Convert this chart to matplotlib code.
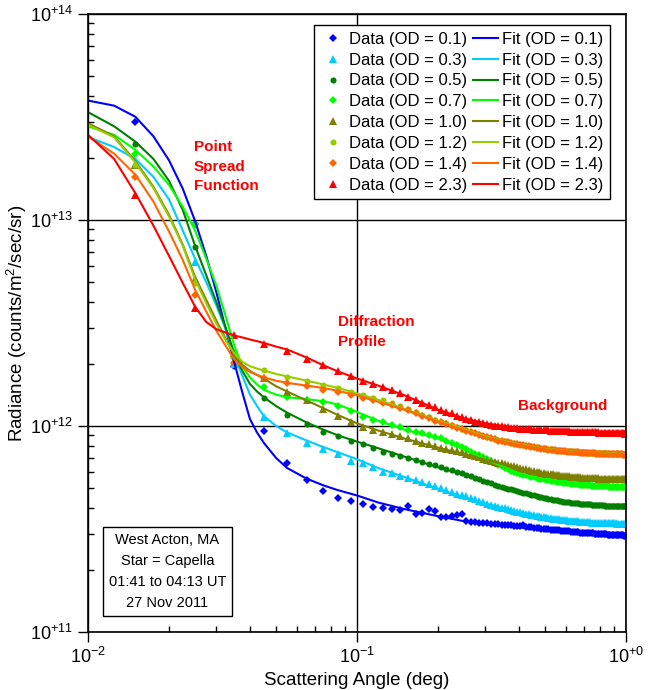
import matplotlib
matplotlib.use("Agg")
import matplotlib.pyplot as plt
from matplotlib.ticker import FixedLocator, FixedFormatter, LogLocator, NullFormatter

plt.rcParams['font.family'] = ['Liberation Sans', 'DejaVu Sans']
plt.rcParams['mathtext.fontset'] = 'custom'
plt.rcParams['mathtext.rm'] = 'Liberation Sans'

# scattering angle of the data samples (deg)
angle = [0.015, 0.025, 0.035, 0.045, 0.055, 0.065, 0.075, 0.085, 0.095, 0.105,
         0.115, 0.125, 0.135, 0.145, 0.155, 0.165, 0.175, 0.185, 0.195, 0.205,
         0.215, 0.225, 0.235, 0.245, 0.255, 0.265, 0.275, 0.285, 0.295, 0.305,
         0.315, 0.325, 0.335, 0.345, 0.355, 0.365, 0.375, 0.385, 0.395, 0.405,
         0.415, 0.425, 0.435, 0.445, 0.455, 0.465, 0.475, 0.485, 0.495, 0.505,
         0.515, 0.525, 0.535, 0.545, 0.555, 0.565, 0.575, 0.585, 0.595, 0.605,
         0.615, 0.625, 0.635, 0.645, 0.655, 0.665, 0.675, 0.685, 0.695, 0.705,
         0.715, 0.725, 0.735, 0.745, 0.755, 0.765, 0.775, 0.785, 0.795, 0.805,
         0.815, 0.825, 0.835, 0.845, 0.855, 0.865, 0.875, 0.885, 0.895, 0.905,
         0.915, 0.925, 0.935, 0.945, 0.955, 0.965, 0.975, 0.985, 0.995]

# measured radiance, units of 1e12 counts/m2/sec/sr
data_od01 = [29.9, 9.6, 1.95, 0.95, 0.66, 0.547, 0.483, 0.447, 0.432, 0.418,
             0.405, 0.40, 0.396, 0.39, 0.41, 0.372, 0.38, 0.395, 0.385, 0.36,
             0.36, 0.365, 0.37, 0.372, 0.345, 0.343, 0.342, 0.34, 0.338, 0.337,
             0.336, 0.334, 0.333, 0.332, 0.331, 0.33, 0.329, 0.328, 0.327, 0.326,
             0.33, 0.325, 0.323, 0.322, 0.321, 0.32, 0.319, 0.318, 0.317, 0.316,
             0.315, 0.314, 0.313, 0.313, 0.312, 0.311, 0.31, 0.31, 0.309, 0.308,
             0.308, 0.307, 0.306, 0.306, 0.305, 0.305, 0.304, 0.304, 0.303, 0.303,
             0.302, 0.302, 0.301, 0.301, 0.301, 0.3, 0.3, 0.3, 0.299, 0.299,
             0.299, 0.298, 0.298, 0.298, 0.297, 0.297, 0.297, 0.297, 0.296, 0.296,
             0.296, 0.296, 0.295, 0.295, 0.295, 0.295, 0.295, 0.294, 0.294]
data_od03 = [18.5, 6.25, 2.0, 1.11, 0.92, 0.83, 0.77, 0.73, 0.68, 0.66,
             0.63, 0.60, 0.59, 0.57, 0.56, 0.545, 0.535, 0.525, 0.51, 0.50,
             0.49, 0.48, 0.47, 0.46, 0.455, 0.447, 0.44, 0.433, 0.427, 0.42,
             0.415, 0.41, 0.406, 0.402, 0.398, 0.394, 0.39, 0.387, 0.384, 0.381,
             0.378, 0.376, 0.373, 0.371, 0.369, 0.367, 0.365, 0.363, 0.361, 0.36,
             0.358, 0.357, 0.355, 0.354, 0.353, 0.352, 0.351, 0.35, 0.349, 0.348,
             0.347, 0.346, 0.346, 0.345, 0.344, 0.344, 0.343, 0.343, 0.342, 0.342,
             0.341, 0.341, 0.341, 0.34, 0.34, 0.34, 0.339, 0.339, 0.339, 0.339,
             0.338, 0.338, 0.338, 0.338, 0.338, 0.337, 0.337, 0.337, 0.337, 0.337,
             0.337, 0.336, 0.336, 0.336, 0.336, 0.336, 0.336, 0.335, 0.335]
data_od05 = [23.4, 7.4, 2.05, 1.36, 1.13, 1.02, 0.94, 0.89, 0.85, 0.82,
             0.78, 0.75, 0.73, 0.715, 0.70, 0.685, 0.67, 0.655, 0.645, 0.63,
             0.62, 0.61, 0.60, 0.59, 0.58, 0.57, 0.56, 0.55, 0.54, 0.533,
             0.526, 0.52, 0.514, 0.508, 0.502, 0.497, 0.492, 0.487, 0.483, 0.479,
             0.475, 0.471, 0.467, 0.463, 0.46, 0.457, 0.454, 0.451, 0.448, 0.445,
             0.443, 0.441, 0.439, 0.437, 0.435, 0.433, 0.431, 0.43, 0.428, 0.427,
             0.426, 0.425, 0.424, 0.423, 0.422, 0.421, 0.42, 0.419, 0.418, 0.418,
             0.417, 0.416, 0.416, 0.415, 0.415, 0.414, 0.414, 0.413, 0.413, 0.412,
             0.412, 0.412, 0.411, 0.411, 0.411, 0.41, 0.41, 0.41, 0.41, 0.409,
             0.409, 0.409, 0.409, 0.408, 0.408, 0.408, 0.408, 0.408, 0.407]
data_od07 = [21.0, 9.6, 2.15, 1.54, 1.38, 1.34, 1.31, 1.25, 1.18, 1.11,
             1.07, 1.04, 1.01, 0.985, 0.96, 0.94, 0.92, 0.90, 0.885, 0.87,
             0.85, 0.83, 0.81, 0.79, 0.77, 0.75, 0.735, 0.72, 0.705, 0.69,
             0.675, 0.662, 0.65, 0.638, 0.627, 0.617, 0.608, 0.6, 0.593, 0.587,
             0.581, 0.576, 0.571, 0.567, 0.563, 0.559, 0.556, 0.553, 0.55, 0.547,
             0.545, 0.542, 0.54, 0.538, 0.536, 0.534, 0.532, 0.531, 0.529, 0.528,
             0.526, 0.525, 0.524, 0.523, 0.522, 0.521, 0.52, 0.519, 0.518, 0.517,
             0.516, 0.516, 0.515, 0.514, 0.514, 0.513, 0.512, 0.512, 0.511, 0.511,
             0.51, 0.51, 0.51, 0.509, 0.509, 0.508, 0.508, 0.508, 0.507, 0.507,
             0.507, 0.507, 0.506, 0.506, 0.506, 0.506, 0.505, 0.505, 0.505]
data_od10 = [18.5, 5.2, 2.26, 1.71, 1.46, 1.33, 1.21, 1.12, 1.05, 0.99,
             0.96, 0.93, 0.91, 0.89, 0.87, 0.85, 0.83, 0.815, 0.80, 0.785,
             0.775, 0.765, 0.755, 0.745, 0.735, 0.725, 0.715, 0.705, 0.695, 0.685,
             0.678, 0.671, 0.664, 0.658, 0.652, 0.646, 0.641, 0.636, 0.631, 0.627,
             0.62, 0.615, 0.611, 0.607, 0.603, 0.6, 0.597, 0.594, 0.591, 0.588,
             0.586, 0.584, 0.582, 0.58, 0.578, 0.576, 0.575, 0.573, 0.572, 0.571,
             0.569, 0.568, 0.567, 0.566, 0.565, 0.564, 0.563, 0.562, 0.562, 0.561,
             0.56, 0.56, 0.559, 0.559, 0.558, 0.558, 0.557, 0.557, 0.556, 0.556,
             0.556, 0.555, 0.555, 0.555, 0.554, 0.554, 0.554, 0.553, 0.553, 0.553,
             0.553, 0.552, 0.552, 0.552, 0.552, 0.551, 0.551, 0.551, 0.551]
data_od12 = [18.5, 4.94, 2.26, 1.87, 1.73, 1.65, 1.58, 1.53, 1.46, 1.41,
             1.37, 1.33, 1.29, 1.25, 1.21, 1.17, 1.13, 1.10, 1.07, 1.05,
             1.03, 1.01, 0.99, 0.97, 0.955, 0.94, 0.925, 0.91, 0.895, 0.885,
             0.875, 0.865, 0.855, 0.848, 0.842, 0.836, 0.83, 0.824, 0.819, 0.814,
             0.809, 0.804, 0.8, 0.796, 0.792, 0.788, 0.784, 0.781, 0.778, 0.775,
             0.772, 0.769, 0.767, 0.765, 0.763, 0.761, 0.759, 0.757, 0.756, 0.754,
             0.753, 0.752, 0.751, 0.75, 0.749, 0.748, 0.747, 0.746, 0.745, 0.744,
             0.743, 0.743, 0.742, 0.741, 0.741, 0.74, 0.739, 0.739, 0.738, 0.738,
             0.737, 0.737, 0.736, 0.736, 0.735, 0.735, 0.735, 0.734, 0.734, 0.734,
             0.733, 0.733, 0.733, 0.732, 0.732, 0.732, 0.731, 0.731, 0.731]
data_od14 = [16.2, 4.33, 2.02, 1.71, 1.62, 1.56, 1.50, 1.46, 1.41, 1.36,
             1.33, 1.30, 1.26, 1.22, 1.19, 1.15, 1.12, 1.09, 1.06, 1.04,
             1.02, 1.00, 0.98, 0.965, 0.95, 0.935, 0.92, 0.905, 0.89, 0.88,
             0.87, 0.86, 0.85, 0.845, 0.838, 0.832, 0.826, 0.82, 0.815, 0.81,
             0.805, 0.80, 0.796, 0.792, 0.788, 0.784, 0.78, 0.777, 0.774, 0.771,
             0.768, 0.765, 0.763, 0.761, 0.759, 0.757, 0.755, 0.753, 0.752, 0.75,
             0.749, 0.748, 0.747, 0.746, 0.745, 0.744, 0.743, 0.742, 0.741, 0.74,
             0.739, 0.739, 0.738, 0.737, 0.737, 0.736, 0.735, 0.735, 0.734, 0.734,
             0.733, 0.733, 0.732, 0.732, 0.731, 0.731, 0.731, 0.73, 0.73, 0.73,
             0.729, 0.729, 0.729, 0.728, 0.728, 0.728, 0.727, 0.727, 0.727]
data_od23 = [13.2, 3.74, 2.77, 2.50, 2.30, 2.12, 1.98, 1.85, 1.75, 1.66,
             1.60, 1.54, 1.49, 1.44, 1.39, 1.34, 1.30, 1.26, 1.23, 1.20,
             1.17, 1.15, 1.12, 1.10, 1.08, 1.07, 1.05, 1.04, 1.03, 1.02,
             1.01, 1.005, 1.00, 0.995, 0.99, 0.985, 0.98, 0.978, 0.975, 0.972,
             0.970, 0.968, 0.965, 0.963, 0.960, 0.960, 0.958, 0.956, 0.955, 0.953,
             0.952, 0.950, 0.950, 0.948, 0.947, 0.946, 0.945, 0.944, 0.943, 0.942,
             0.941, 0.940, 0.940, 0.939, 0.938, 0.937, 0.937, 0.936, 0.935, 0.935,
             0.934, 0.933, 0.933, 0.932, 0.931, 0.931, 0.930, 0.930, 0.929, 0.928,
             0.928, 0.927, 0.927, 0.926, 0.926, 0.925, 0.925, 0.924, 0.924, 0.923,
             0.923, 0.922, 0.922, 0.921, 0.921, 0.920, 0.920, 0.920, 0.919]

# fitted curves, same units
fit_angle = [0.010, 0.0125, 0.015, 0.0175, 0.020, 0.0225, 0.025, 0.0275, 0.030, 0.0325,
             0.035, 0.0375, 0.040, 0.0425, 0.045, 0.050, 0.055, 0.065, 0.075, 0.085,
             0.10, 0.12, 0.15, 0.20, 0.25, 0.30, 0.40, 0.50, 0.70, 1.0]
fit_od01 = [38.0, 35.9, 31.7, 25.5, 19.5, 14.2, 9.9, 6.7, 4.46, 2.96,
            2.03, 1.45, 1.08, 0.93, 0.83, 0.70, 0.625, 0.555, 0.515, 0.488,
            0.46, 0.425, 0.395, 0.365, 0.345, 0.335, 0.322, 0.312, 0.302, 0.295]
fit_od03 = [25.3, 22.6, 19.8, 16.2, 12.6, 8.9, 6.5, 5.0, 3.85, 2.95,
            2.2, 1.75, 1.42, 1.25, 1.12, 1.0, 0.93, 0.85, 0.79, 0.745,
            0.69, 0.625, 0.565, 0.495, 0.45, 0.42, 0.382, 0.362, 0.345, 0.337]
fit_od05 = [33.4, 28.5, 24.0, 19.8, 15.5, 11.2, 7.5, 5.4, 4.0, 3.0,
            2.25, 1.85, 1.6, 1.47, 1.38, 1.25, 1.16, 1.04, 0.96, 0.90,
            0.84, 0.78, 0.71, 0.63, 0.58, 0.535, 0.478, 0.446, 0.418, 0.408]
fit_od07 = [28.5, 25.9, 21.9, 18.2, 14.8, 11.6, 8.9, 6.5, 4.8, 3.4,
            2.45, 1.95, 1.72, 1.59, 1.5, 1.42, 1.38, 1.35, 1.32, 1.27,
            1.17, 1.06, 0.96, 0.87, 0.77, 0.69, 0.59, 0.548, 0.518, 0.505]
fit_od10 = [29.5, 25.5, 19.3, 14.5, 10.6, 7.6, 5.3, 4.1, 3.25, 2.65,
            2.2, 1.98, 1.85, 1.77, 1.70, 1.56, 1.47, 1.33, 1.22, 1.13,
            1.03, 0.95, 0.87, 0.785, 0.73, 0.685, 0.625, 0.588, 0.562, 0.551]
fit_od12 = [29.0, 25.2, 19.0, 14.3, 10.4, 7.5, 5.15, 3.95, 3.15, 2.6,
            2.25, 2.05, 1.95, 1.90, 1.86, 1.79, 1.74, 1.66, 1.59, 1.53,
            1.44, 1.34, 1.21, 1.06, 0.965, 0.89, 0.815, 0.775, 0.745, 0.732]
fit_od14 = [25.5, 21.0, 16.6, 12.3, 8.8, 6.4, 4.6, 3.6, 2.9, 2.45,
            2.1, 1.93, 1.83, 1.77, 1.72, 1.66, 1.62, 1.57, 1.53, 1.48,
            1.41, 1.31, 1.20, 1.05, 0.955, 0.88, 0.81, 0.77, 0.742, 0.728]
fit_od23 = [25.9, 19.8, 13.5, 9.4, 6.7, 4.95, 3.8, 3.2, 2.95, 2.84,
            2.75, 2.69, 2.63, 2.58, 2.53, 2.43, 2.35, 2.15, 1.97, 1.84,
            1.70, 1.57, 1.41, 1.20, 1.09, 1.03, 0.975, 0.955, 0.935, 0.92]

od_labels = ['0.1', '0.3', '0.5', '0.7', '1.0', '1.2', '1.4', '2.3']
colors = ['#0000ff', '#00ccff', '#008000', '#00ff00', '#808000', '#99cc00', '#ff6600', '#ff0000']
markers = ['D', '^', 'o', 'D', '^', 'o', 'D', '^']
msizes = [3.8, 5.2, 4.4, 3.8, 5.2, 4.4, 3.8, 5.2]

all_data = [data_od01, data_od03, data_od05, data_od07, data_od10, data_od12, data_od14, data_od23]
all_fits = [fit_od01, fit_od03, fit_od05, fit_od07, fit_od10, fit_od12, fit_od14, fit_od23]

fig = plt.figure(figsize=(6.61, 6.90), dpi=100)
ax = fig.add_axes([88 / 661, 1 - 632 / 690, 538 / 661, 618 / 690])

handles = []
for vals, c, m, ms, od in zip(all_data, colors, markers, msizes, od_labels):
    h, = ax.plot(angle, [v * 1e12 for v in vals], linestyle='none', marker=m,
                 color=c, markersize=ms, markeredgewidth=0, label=f'Data (OD = {od})')
    handles.append(h)
for vals, c, od in zip(all_fits, colors, od_labels):
    h, = ax.plot(fit_angle, [v * 1e12 for v in vals], color=c, linewidth=1.5,
                 label=f'Fit (OD = {od})')
    handles.append(h)

ax.set_xscale('log')
ax.set_yscale('log')
ax.set_xlim(1e-2, 1e0)
ax.set_ylim(1e11, 1e14)

ax.xaxis.set_major_locator(FixedLocator([1e-2, 1e-1, 1e0]))
ax.xaxis.set_major_formatter(FixedFormatter([r'$\mathregular{10^{-2}}$', r'$\mathregular{10^{-1}}$',
                                             r'$\mathregular{10^{+0}}$']))
ax.yaxis.set_major_locator(FixedLocator([1e11, 1e12, 1e13, 1e14]))
ax.yaxis.set_major_formatter(FixedFormatter([r'$\mathregular{10^{+11}}$', r'$\mathregular{10^{+12}}$',
                                             r'$\mathregular{10^{+13}}$', r'$\mathregular{10^{+14}}$']))
ax.xaxis.set_minor_locator(LogLocator(base=10, subs=range(2, 10)))
ax.yaxis.set_minor_locator(LogLocator(base=10, subs=range(2, 10)))
ax.xaxis.set_minor_formatter(NullFormatter())
ax.yaxis.set_minor_formatter(NullFormatter())
ax.tick_params(which='major', direction='out', length=7, width=1, labelsize=13, colors='black')
ax.tick_params(which='minor', direction='in', length=4, width=1)
ax.grid(True, which='major', color='black', linewidth=1)
for s in ax.spines.values():
    s.set_linewidth(1.2)

ax.set_xlabel('Scattering Angle (deg)', fontsize=13.5, labelpad=4)
ax.set_ylabel('Radiance (counts/m$^2$/sec/sr)', fontsize=13.5, labelpad=1)

leg = ax.legend(handles=handles, ncol=2, loc='upper right', bbox_to_anchor=(0.970, 0.982),
                borderaxespad=0, fontsize=12, frameon=True, fancybox=False, edgecolor='black',
                framealpha=1, handlelength=1.5, handletextpad=0.2, columnspacing=0.4,
                labelspacing=0.35, borderpad=0.4)
leg.get_frame().set_linewidth(1)

ax.text(0.0248, 1.81e13, 'Point\nSpread\nFunction', color='#ff0000', fontsize=11,
        fontweight='bold', va='center', ha='left', linespacing=1.5)
ax.text(0.085, 2.86e12, 'Diffraction\nProfile', color='#ff0000', fontsize=11,
        fontweight='bold', va='center', ha='left', linespacing=1.5)
ax.text(0.397, 1.25e12, 'Background', color='#ff0000', fontsize=11,
        fontweight='bold', va='center', ha='left')

ax.text(0.01974, 1.97e11, 'West Acton, MA\nStar = Capella\n01:41 to 04:13 UT\n27 Nov 2011',
        fontsize=10.5, ha='center', va='center', multialignment='center', linespacing=1.65,
        bbox=dict(boxstyle='square,pad=0.4', facecolor='white', edgecolor='black', linewidth=1))

fig.savefig('out.png', dpi=100)
